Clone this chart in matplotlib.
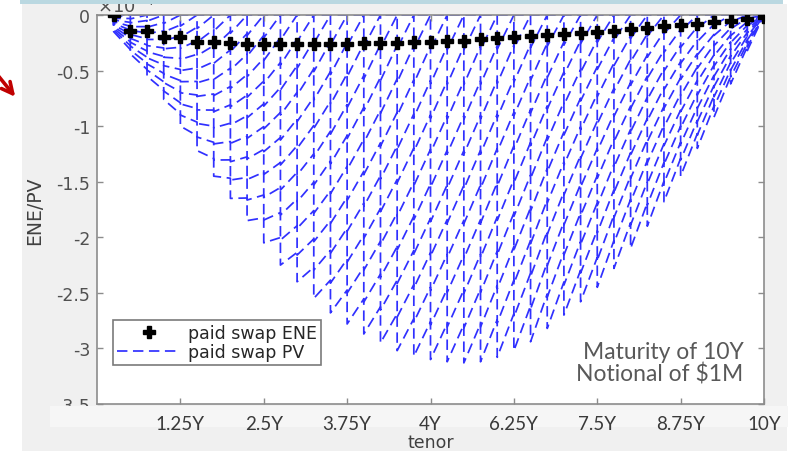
import numpy as np
import matplotlib.pyplot as plt
from matplotlib.patches import Rectangle

# coupon / simulation dates (years)
tenor = np.arange(0.25, 10.01, 0.25)

# expected negative exposure of the paid swap (x1e-4)
ene = [0.0, -0.14, -0.14, -0.20, -0.20, -0.24, -0.24, -0.25, -0.26, -0.26,
       -0.26, -0.26, -0.26, -0.26, -0.26, -0.255, -0.25, -0.25, -0.245, -0.24,
       -0.235, -0.23, -0.22, -0.21, -0.20, -0.19, -0.18, -0.17, -0.16, -0.15,
       -0.14, -0.13, -0.115, -0.10, -0.09, -0.08, -0.065, -0.05, -0.035, -0.02]

# lowest simulated PV at each date (x1e-4)
pv_floor = [-0.15, -0.35, -0.55, -0.76, -1.0, -1.22, -1.45, -1.65, -1.85, -2.05,
            -2.25, -2.40, -2.55, -2.68, -2.78, -2.87, -2.95, -3.02, -3.07, -3.10,
            -3.12, -3.13, -3.12, -3.08, -3.02, -2.94, -2.82, -2.70, -2.58, -2.45,
            -2.28, -2.10, -1.90, -1.68, -1.45, -1.20, -0.92, -0.62, -0.32, 0.0]

# simulated paths, as share of the lowest path, and accrual between dates
path_share = [0.0, 0.1, 0.2, 0.3, 0.4, 0.5, 0.6, 0.7, 0.8, 0.9, 1.0]
drift_share = 0.11

xtick_vals = [1.25, 2.5, 3.75, 5.0, 6.25, 7.5, 8.75, 10.0]
xtick_labels = ['1.25Y', '2.5Y', '3.75Y', '4Y', '6.25Y', '7.5Y', '8.75Y', '10Y']
ytick_vals = [-3.5, -3, -2.5, -2, -1.5, -1, -0.5, 0]
ytick_labels = ['-3.5', '-3', '-2.5', '-2', '-1.5', '-1', '-0.5', '0']

plt.rcParams['font.family'] = ['DejaVu Sans']

W, H = 797, 452
fig = plt.figure(figsize=(W / 100, H / 100), dpi=100)
fig.patch.set_facecolor('white')


def px_rect(x0, y0, x1, y1, color, z):
    fig.patches.append(Rectangle((x0 / W, 1 - y1 / H), (x1 - x0) / W, (y1 - y0) / H,
                                 transform=fig.transFigure, color=color, lw=0, zorder=z))


px_rect(22, 5, 787, 452, '#f0f0f0', -2)
px_rect(20, 0, 783, 5, '#bad8e1', 5)

ax = fig.add_axes([97 / W, 1 - 405 / H, 667 / W, 389 / H])
ax.set_facecolor('white')

for k, share in enumerate(path_share):
    xs, ys = [tenor[0]], [0.0]
    for i, t in enumerate(tenor):
        xs.append(t)
        ys.append(share * pv_floor[i])
        if i + 1 < len(tenor):
            xs.append(tenor[i + 1])
            ys.append((share - drift_share) * pv_floor[i + 1])
    ys = np.minimum(ys, 0)
    ax.plot(xs, ys, color='#3030ff', lw=1.25, dashes=(6, 3.2), zorder=2,
            label='paid swap PV' if k == len(path_share) - 1 else None)

ax.plot(tenor, ene, ls='none', marker='P', ms=8.5, color='black',
        zorder=4, label='paid swap ENE')

ax.set_xlim(0, 10)
ax.set_ylim(-3.5, 0)
ax.set_xticks(xtick_vals)
ax.set_xticklabels(xtick_labels, fontfamily='Lato', fontsize=13.5, color='#3a3a3a')
ax.set_yticks(ytick_vals)
ax.set_yticklabels(ytick_labels, fontfamily='DejaVu Sans', fontsize=12.5, color='#505050')
ax.tick_params(direction='in', top=True, right=True, length=4, width=1,
               color='#8c8c8c')
ax.tick_params(axis='x', pad=8)
ax.tick_params(axis='y', pad=5)
for s in ax.spines.values():
    s.set_color('#8c8c8c')
    s.set_linewidth(1.2)

ax.xaxis.set_zorder(3)
ax.yaxis.set_zorder(0.5)
ax.add_patch(Rectangle((-47 / 667, -23 / 389), 738 / 667, 21 / 389, transform=ax.transAxes,
                       color='#f6f6f6', lw=0, clip_on=False, zorder=1))

ax.set_ylabel('ENE/PV', fontfamily='DejaVu Sans', fontsize=13.5, color='#404040',
              labelpad=9)
ax.set_xlabel('tenor', fontfamily='DejaVu Sans', fontsize=12.5, color='#404040',
              labelpad=1)

ax.text(0.0, 0.998, r'$\times10^{-4}$', transform=ax.transAxes, ha='left', va='bottom',
        fontsize=13, color='#505050')

ax.text(9.69, -3.13, 'Maturity of 10Y\nNotional of $1M', ha='right', va='center',
        multialignment='right', fontfamily='Lato', fontsize=16.5, color='#595959',
        linespacing=1.05, zorder=5)

handles, labels = ax.get_legend_handles_labels()
leg = ax.legend(handles[::-1], labels[::-1], loc='lower left',
                bbox_to_anchor=(0.024, 0.1), borderaxespad=0,
                prop={'family': 'DejaVu Sans', 'size': 12.5},
                handlelength=3.6, handletextpad=0.45, labelspacing=0.05,
                borderpad=0.25, fancybox=False, framealpha=1)
leg.get_frame().set_edgecolor('#7a7a7a')
leg.get_frame().set_linewidth(1.2)
for txt in leg.get_texts():
    txt.set_color('#262626')

ax.annotate('', xy=(17 / W, 1 - 100 / H), xytext=(-4 / W, 1 - 74 / H),
            xycoords='figure fraction', textcoords='figure fraction',
            arrowprops=dict(arrowstyle='->', color='#c00000', lw=2.6,
                            mutation_scale=20))

fig.savefig('out.png', dpi=100)
